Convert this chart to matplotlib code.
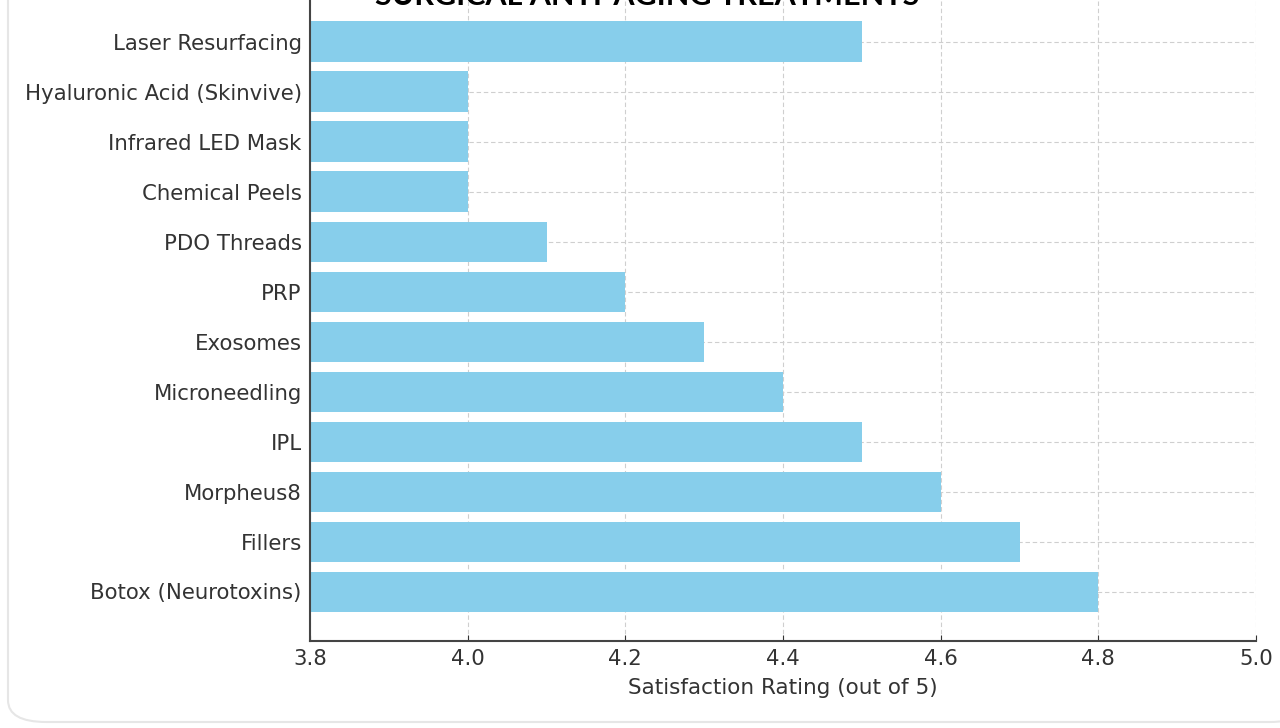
import matplotlib.pyplot as plt
from matplotlib.patches import FancyBboxPatch

TREATMENTS = ["Botox (Neurotoxins)", "Fillers", "Morpheus8", "IPL", "Microneedling",
              "Exosomes", "PRP", "PDO Threads", "Chemical Peels", "Infrared LED Mask",
              "Hyaluronic Acid (Skinvive)", "Laser Resurfacing"]
RATINGS = [4.8, 4.7, 4.6, 4.5, 4.4, 4.3, 4.2, 4.1, 4.0, 4.0, 4.0, 4.5]
XTICKS = [3.8, 4.0, 4.2, 4.4, 4.6, 4.8, 5.0]

fig = plt.figure(figsize=(12.8, 7.28), dpi=100)
ax = fig.add_axes([310 / 1280, 1 - 641 / 728, (1256 - 310) / 1280, (641 + 8) / 728])

ax.barh(TREATMENTS, RATINGS, color="#87CEEB", height=0.8, zorder=2)
ax.set_xlim(3.8, 5.0)
ax.set_xticks(XTICKS)
ax.set_xticklabels([f"{t:.1f}" for t in XTICKS])
ax.grid(True, linestyle=(0, (4, 2.5)), color="#cfcfcf", linewidth=0.8, zorder=0)
ax.set_axisbelow(True)
for side in ["top", "right"]:
    ax.spines[side].set_visible(False)
for side in ["left", "bottom"]:
    ax.spines[side].set_color("#444444")
    ax.spines[side].set_linewidth(1.5)
ax.tick_params(labelsize=15.3, colors="#333333", length=4, direction="in", pad=6)
ax.set_xlabel("Satisfaction Rating (out of 5)", fontsize=15.5, color="#333333", labelpad=6)

# title is cropped at the top edge in the reference
fig.text(0.506, 1.006, "SURGICAL ANTI-AGING TREATMENTS", ha="center", va="center",
         fontsize=22, color="black", family="Lato", fontweight="bold")

# faint rounded card border
fig.patches.append(FancyBboxPatch((8 / 1280, 6 / 728), 1300 / 1280, 760 / 728,
                                  boxstyle="round,pad=0,rounding_size=0.03",
                                  transform=fig.transFigure, fill=False,
                                  edgecolor="#e6e6e6", linewidth=1.5))

fig.savefig("out.png", dpi=100)
